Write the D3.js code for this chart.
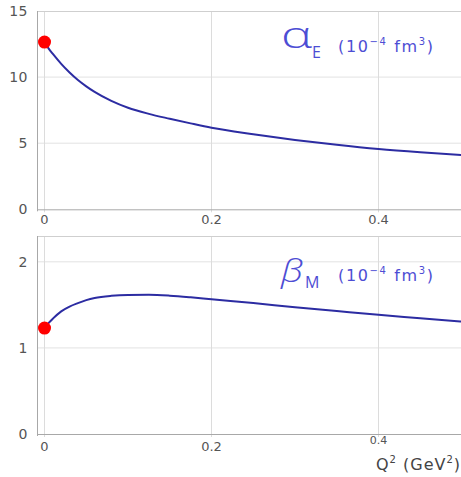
<!DOCTYPE html>
<html><head><meta charset="utf-8">
<script src="https://cdn.jsdelivr.net/npm/d3@7"></script>
<style>body{margin:0;background:#fff}svg{display:block}</style>
</head><body>
<script>
const q2 = [0, 0.005, 0.01, 0.02, 0.03, 0.04, 0.05, 0.06, 0.08, 0.1, 0.125, 0.15, 0.175, 0.2, 0.25, 0.3, 0.35, 0.4, 0.45, 0.5];
const alphaE = [12.65, 12.15, 11.75, 11.0, 10.35, 9.78, 9.3, 8.88, 8.2, 7.68, 7.22, 6.85, 6.5, 6.17, 5.68, 5.25, 4.88, 4.56, 4.31, 4.1];
const betaM = [1.23, 1.29, 1.34, 1.425, 1.48, 1.52, 1.555, 1.58, 1.605, 1.615, 1.617, 1.607, 1.588, 1.565, 1.522, 1.472, 1.428, 1.384, 1.345, 1.305];
const xTicks = [0, 0.2, 0.4];
const alphaTicks = [0, 5, 10, 15];
const betaTicks = [0, 1, 2];
const alphaPoint = [0, 12.65];
const betaPoint = [0, 1.23];

const W = 461, H = 477;
const svg = d3.select("body").append("svg").attr("width", W).attr("height", H);
const x = d3.scaleLinear().domain([-0.009, 0.5]).range([37, 462]);
const FONT = "DejaVu Sans, sans-serif";
const THIN = "'Open Sans', 'Noto Sans', sans-serif";
const BLUE = "#4d4dd4";

function panel(y, data, ticks, pt, sym, sub, subX, symY, subY, labY, xLabelY, isBottom) {
  const g = svg.append("g");
  const [y0, y1] = y.range();
  g.selectAll(".hg").data(ticks.filter(t => t > 0 && y(t) > y1 + 1)).join("line")
    .attr("x1", 37).attr("x2", W).attr("y1", d => y(d)).attr("y2", d => y(d))
    .attr("stroke", "#e2e2e2");
  g.selectAll(".vg").data(xTicks).join("line")
    .attr("x1", d => x(d)).attr("x2", d => x(d)).attr("y1", y1).attr("y2", y0 + 3)
    .attr("stroke", "#dcdcdc");
  g.append("line").attr("x1", 37).attr("x2", W).attr("y1", y1 + 0.5).attr("y2", y1 + 0.5).attr("stroke", "#cfcfcf");
  g.append("line").attr("x1", 37.5).attr("x2", 37.5).attr("y1", y1).attr("y2", y0 + 2).attr("stroke", "#a8a8a8");
  g.append("line").attr("x1", 37).attr("x2", W).attr("y1", y0 + 0.5).attr("y2", y0 + 0.5).attr("stroke", "#a8a8a8");
  g.selectAll(".yt").data(ticks).join("text")
    .attr("x", 28).attr("y", d => y(d)).attr("dy", "0.35em")
    .attr("text-anchor", "end").attr("font-family", FONT).attr("letter-spacing", 0.5)
    .attr("font-size", 14).attr("fill", "#555").text(d => d);
  g.selectAll(".xt").data(xTicks).join("text")
    .attr("x", d => x(d)).attr("y", d => (isBottom && d === 0.4) ? xLabelY - 6 : xLabelY).attr("dy", "0.35em")
    .attr("text-anchor", "middle").attr("font-family", FONT)
    .attr("font-size", d => (isBottom && d === 0.4) ? 11 : 13).attr("fill", "#555").text(d => d);
  const line = d3.line().x((d, i) => x(q2[i])).y(d => y(d)).curve(d3.curveMonotoneX);
  g.append("path").datum(data).attr("d", line).attr("fill", "none")
    .attr("stroke", "#2c2ca2").attr("stroke-width", 2);
  g.append("circle").attr("cx", x(pt[0])).attr("cy", y(pt[1])).attr("r", 6.5).attr("fill", "#ff0000");
  g.append("text").attr("x", 281).attr("y", symY).attr("font-family", THIN).attr("font-weight", 300)
    .attr("font-style", sym === "β" ? "italic" : "normal")
    .attr("font-size", sym === "α" ? 37 : 32).attr("fill", BLUE).attr("textLength", sym === "α" ? 31 : 22)
    .attr("lengthAdjust", "spacingAndGlyphs").text(sym);
  g.append("text").attr("x", subX).attr("y", subY).attr("font-family", THIN).attr("font-weight", 400)
    .attr("font-size", 16).attr("fill", BLUE).text(sub);
  const unit = g.append("text").attr("x", 338).attr("y", labY)
    .attr("font-family", FONT).attr("font-size", 16).attr("fill", BLUE)
    .attr("textLength", 95).attr("lengthAdjust", "spacing");
  unit.append("tspan").text("(10");
  unit.append("tspan").attr("font-size", 10).attr("dy", -7).text("−4");
  unit.append("tspan").attr("dy", 7).text(" fm");
  unit.append("tspan").attr("font-size", 10).attr("dy", -7).text("3");
  unit.append("tspan").attr("dy", 7).text(")");
}

const yA = d3.scaleLinear().domain([0, 15]).range([209.3, 11]);
const yB = d3.scaleLinear().domain([0, 2.3]).range([434, 236]);
panel(yA, alphaE, alphaTicks, alphaPoint, "α", "E", 312, 48, 58, 52, 219, false);
panel(yB, betaM, betaTicks, betaPoint, "β", "M", 305, 282, 288, 281, 446, true);

const ql = svg.append("text").attr("x", 376).attr("y", 470)
  .attr("font-family", FONT).attr("font-size", 16).attr("fill", "#444")
  .attr("textLength", 84).attr("lengthAdjust", "spacing");
ql.append("tspan").text("Q");
ql.append("tspan").attr("font-size", 10).attr("dy", -7).text("2");
ql.append("tspan").attr("dy", 7).text(" (GeV");
ql.append("tspan").attr("font-size", 10).attr("dy", -7).text("2");
ql.append("tspan").attr("dy", 7).text(")");
</script>
</body></html>
